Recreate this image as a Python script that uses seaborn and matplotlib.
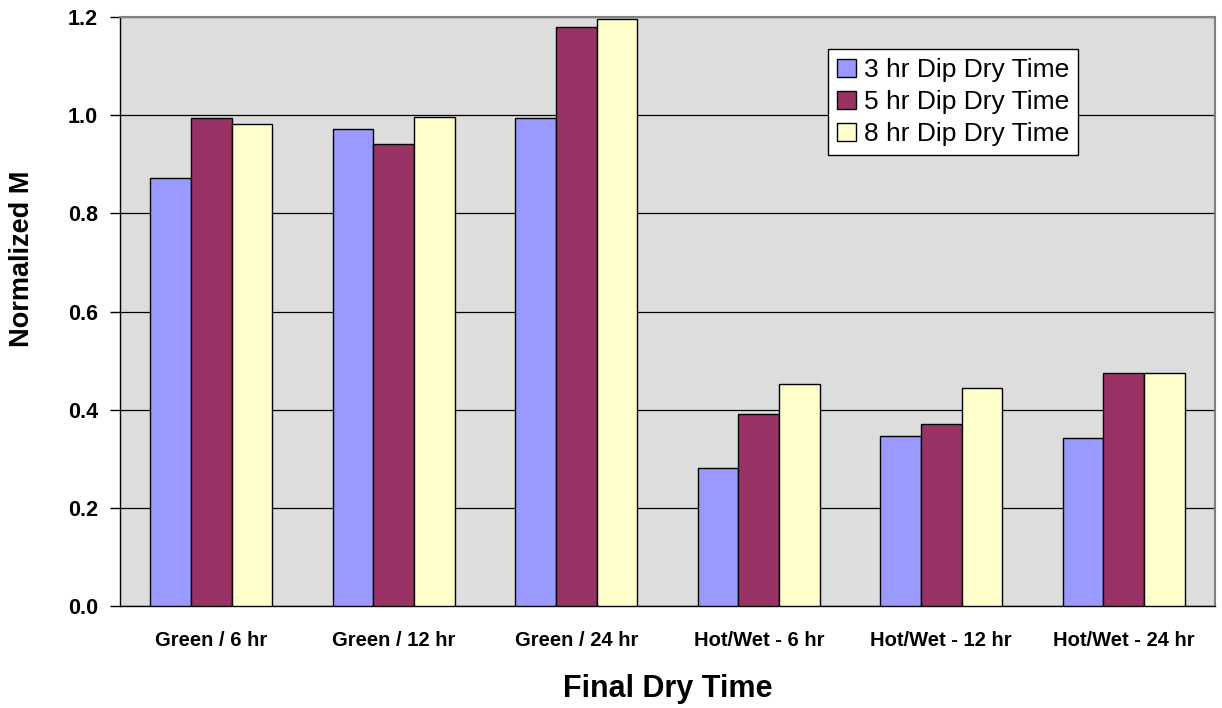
import matplotlib
matplotlib.use("Agg")
import matplotlib.pyplot as plt
from matplotlib.transforms import Bbox, TransformedBbox
import numpy as np
import pandas as pd
import seaborn as sns

# Categories and series
final_dry = ["Green / 6 hr", "Green / 12 hr", "Green / 24 hr",
             "Hot/Wet - 6 hr", "Hot/Wet - 12 hr", "Hot/Wet - 24 hr"]
series_names = ["3 hr Dip Dry Time", "5 hr Dip Dry Time", "8 hr Dip Dry Time"]
dip_3hr = [0.871, 0.971, 0.995, 0.282, 0.347, 0.342]
dip_5hr = [0.994, 0.941, 1.180, 0.391, 0.370, 0.475]
dip_8hr = [0.983, 0.997, 1.196, 0.452, 0.445, 0.475]
y_ticks = [0.0, 0.2, 0.4, 0.6, 0.8, 1.0, 1.2]
colors = ["#9999FF", "#993366", "#FFFFCC"]

df = pd.DataFrame({
    "Final Dry Time": final_dry * 3,
    "Dip": [series_names[0]] * 6 + [series_names[1]] * 6 + [series_names[2]] * 6,
    "Value": dip_3hr + dip_5hr + dip_8hr,
})

sns.set_style("white")
plt.rcParams["font.family"] = ["Liberation Sans", "DejaVu Sans"]
plt.rcParams.update({"text.color": "black", "axes.labelcolor": "black",
                     "xtick.color": "black", "ytick.color": "black"})

W, H = 1222, 708
fig = plt.figure(figsize=(W / 100, H / 100), dpi=100)
ax = fig.add_axes([120 / W, (H - 606) / H, (1215 - 120) / W, (606 - 17) / H])
ax.set_facecolor("#DDDDDD")

sns.barplot(data=df, x="Final Dry Time", y="Value", hue="Dip",
            order=final_dry, hue_order=series_names, palette=colors,
            saturation=1, width=0.666, edgecolor="black", linewidth=1,
            ax=ax, zorder=3)

ax.set_xlim(-0.5, len(final_dry) - 0.5)
ax.set_ylim(0, 1.2)
ax.set_yticks(y_ticks)
ax.set_yticklabels([f"{t:.1f}" for t in y_ticks], fontsize=15.5, fontweight="bold")

# horizontal gridlines
ax.set_axisbelow(True)
ax.yaxis.grid(True, color="black", linewidth=0.9)
ax.xaxis.grid(False)

# category labels at centres, tick marks at group boundaries
ax.set_xticks(range(len(final_dry)))
ax.set_xticklabels(final_dry, fontsize=14.5, fontweight="bold")
ax.set_xticks(np.arange(-0.5, len(final_dry), 1.0), minor=True)
ax.tick_params(axis="x", which="major", length=0, pad=18)
ax.tick_params(axis="x", which="minor", length=7, width=1, color="black", direction="out")
ax.tick_params(axis="y", which="major", length=7, width=1, color="black",
               direction="out", pad=9, left=True)

for side in ["left", "bottom"]:
    ax.spines[side].set_color("black")
    ax.spines[side].set_linewidth(1)
for side in ["top", "right"]:
    ax.spines[side].set_visible(True)
    ax.spines[side].set_color("#808080")
    ax.spines[side].set_linewidth(1.5)

ax.set_xlabel("Final Dry Time", fontsize=22, fontweight="bold", va="top")
ax.xaxis.set_label_coords(0.5, -(674 - 606) / (606 - 17))
ax.set_ylabel("")

# vertical axis title, cut off at the top
ylab = fig.text(22 / W, 1 - 347 / H, "Normalized MOE", rotation=90,
                rotation_mode="anchor", ha="left", va="center",
                fontsize=19.5, fontweight="bold")
ylab.set_clip_box(TransformedBbox(Bbox.from_extents(0, 0, 1, 1 - 173 / H), fig.transFigure))
ylab.set_clip_on(True)

handles, labels = ax.get_legend_handles_labels()
leg = ax.legend(handles, labels, loc="upper left",
                bbox_to_anchor=(828 / W, 1 - 49 / H), bbox_transform=fig.transFigure,
                borderaxespad=0, fontsize=19, frameon=True, fancybox=False,
                framealpha=1, edgecolor="black", handlelength=0.7, handleheight=0.7,
                handletextpad=0.3, labelspacing=0.3, borderpad=0.35)
leg.get_frame().set_linewidth(1)
leg.get_frame().set_facecolor("white")

fig.savefig("out.png", dpi=100, facecolor="white")
